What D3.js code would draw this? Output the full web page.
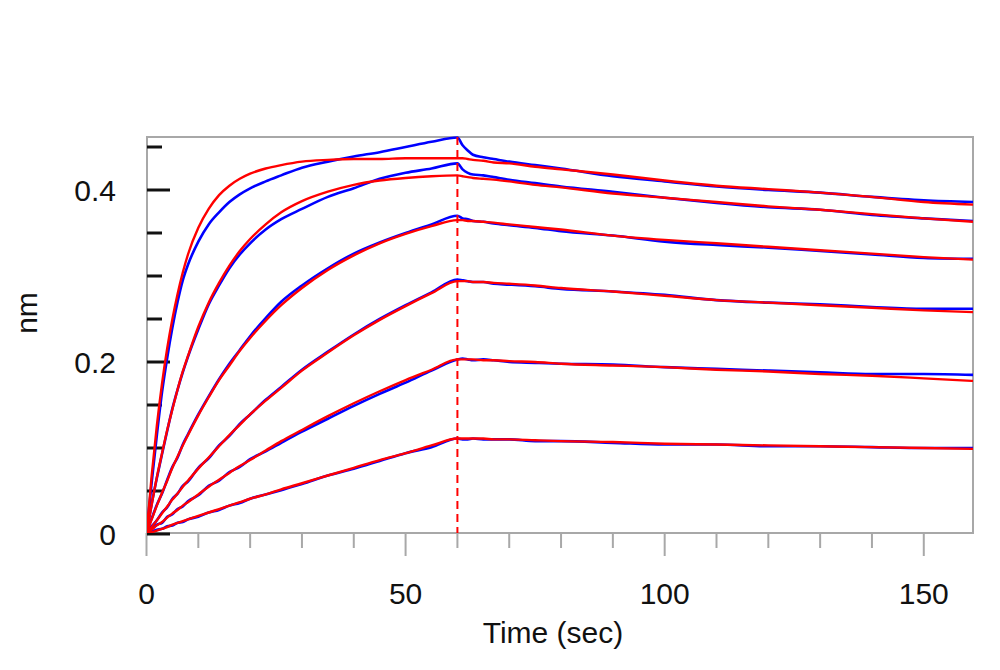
<!DOCTYPE html>
<html>
<head>
<meta charset="utf-8">
<script src="https://cdn.jsdelivr.net/npm/d3@7"></script>
<style>
  html, body { margin: 0; padding: 0; background: #ffffff; }
  svg { display: block; }
  text { font-family: "Liberation Sans", Arial, sans-serif; fill: #111; }
</style>
</head>
<body>
<svg id="chart" width="1000" height="670"></svg>
<script>
// ---------- DATA ----------
const time = [0,1,2,3,4,5,6,7,8,10,12,14,16,18,20,23,26,30,35,40,45,50,55,60,
              61,62,63,65,67,70,75,80,90,100,110,120,130,140,150,159.5];

// Measured (blue) traces, highest concentration first
const blue1 = [0.000,0.060,0.115,0.165,0.205,0.240,0.270,0.295,0.313,0.340,0.360,0.374,0.386,0.395,0.402,0.410,0.417,0.426,0.433,0.439,0.444,0.450,0.456,0.461,
               0.452,0.446,0.441,0.438,0.436,0.433,0.429,0.425,0.416,0.410,0.404,0.400,0.397,0.392,0.388,0.386];
const blue2 = [0.002,0.035,0.065,0.093,0.120,0.146,0.168,0.188,0.206,0.238,0.267,0.289,0.309,0.325,0.338,0.354,0.366,0.378,0.392,0.402,0.413,0.420,0.425,0.431,
               0.424,0.420,0.418,0.417,0.415,0.412,0.408,0.404,0.398,0.391,0.385,0.380,0.377,0.371,0.367,0.364];
const blue3 = [0.003,0.018,0.034,0.047,0.063,0.078,0.089,0.104,0.116,0.139,0.160,0.180,0.198,0.214,0.230,0.251,0.270,0.289,0.309,0.326,0.339,0.350,0.360,0.370,
               0.367,0.366,0.364,0.363,0.361,0.359,0.356,0.352,0.347,0.340,0.336,0.333,0.329,0.325,0.321,0.320];
const blue4 = [0.004,0.009,0.016,0.025,0.031,0.041,0.047,0.056,0.061,0.077,0.088,0.103,0.114,0.128,0.139,0.156,0.171,0.191,0.212,0.232,0.250,0.266,0.281,0.296,
               0.295,0.294,0.293,0.293,0.291,0.290,0.288,0.285,0.282,0.278,0.272,0.269,0.267,0.264,0.262,0.262];
const blue5 = [0.005,0.006,0.011,0.013,0.020,0.023,0.029,0.032,0.038,0.045,0.056,0.062,0.072,0.078,0.087,0.096,0.106,0.119,0.134,0.149,0.163,0.176,0.190,0.203,
               0.204,0.203,0.202,0.203,0.202,0.200,0.199,0.198,0.197,0.194,0.192,0.190,0.188,0.186,0.186,0.185];
const blue6 = [0.004,0.003,0.005,0.006,0.009,0.010,0.013,0.014,0.017,0.020,0.025,0.028,0.033,0.036,0.041,0.046,0.051,0.058,0.068,0.076,0.085,0.094,0.101,0.111,
               0.110,0.110,0.111,0.110,0.110,0.110,0.108,0.108,0.106,0.104,0.104,0.102,0.102,0.101,0.100,0.100];

// Fitted (red) curves
const red1 = [0.000,0.068,0.126,0.175,0.216,0.250,0.279,0.304,0.325,0.356,0.378,0.394,0.405,0.413,0.419,0.425,0.429,0.433,0.435,0.436,0.436,0.437,0.437,0.437,
              0.437,0.436,0.435,0.434,0.432,0.431,0.427,0.424,0.418,0.411,0.405,0.401,0.397,0.392,0.386,0.383];
const red2 = [0.000,0.034,0.066,0.094,0.121,0.145,0.168,0.189,0.207,0.241,0.269,0.292,0.312,0.329,0.343,0.360,0.374,0.387,0.398,0.406,0.411,0.414,0.416,0.417,
              0.416,0.415,0.414,0.413,0.412,0.410,0.406,0.403,0.396,0.391,0.386,0.381,0.377,0.372,0.367,0.363];
const red3 = [0.000,0.017,0.033,0.048,0.062,0.077,0.090,0.103,0.115,0.138,0.159,0.179,0.196,0.213,0.228,0.248,0.266,0.286,0.307,0.324,0.338,0.349,0.358,0.365,
              0.365,0.364,0.364,0.363,0.362,0.360,0.357,0.354,0.347,0.342,0.338,0.334,0.330,0.326,0.322,0.319];
const red4 = [0.000,0.008,0.016,0.024,0.032,0.040,0.047,0.055,0.062,0.076,0.089,0.102,0.115,0.127,0.139,0.155,0.170,0.190,0.211,0.231,0.249,0.265,0.280,0.294,
              0.294,0.294,0.293,0.293,0.292,0.291,0.289,0.286,0.282,0.277,0.272,0.269,0.266,0.263,0.260,0.258];
const red5 = [0.000,0.005,0.010,0.014,0.019,0.024,0.028,0.033,0.037,0.046,0.055,0.063,0.071,0.079,0.086,0.097,0.108,0.121,0.137,0.152,0.166,0.179,0.191,0.203,
              0.203,0.203,0.203,0.202,0.202,0.201,0.200,0.198,0.196,0.194,0.191,0.189,0.186,0.184,0.181,0.178];
const red6 = [0.000,0.002,0.004,0.006,0.008,0.011,0.013,0.015,0.017,0.021,0.025,0.029,0.033,0.037,0.041,0.046,0.052,0.059,0.068,0.077,0.086,0.094,0.103,0.111,
              0.111,0.111,0.111,0.111,0.110,0.110,0.109,0.108,0.107,0.105,0.104,0.103,0.102,0.101,0.100,0.099];

const blueSeries = [blue1, blue2, blue3, blue4, blue5, blue6];
const redSeries = [red1, red2, red3, red4, red5, red6];

const xTickLabels = [0, 50, 100, 150];
const xMinorTicks = d3.range(0, 160, 10);
const yTickLabels = [0, 0.2, 0.4];
const yMinorTicks = [0, 0.05, 0.1, 0.15, 0.2, 0.25, 0.3, 0.35, 0.4, 0.45];
const switchTime = 60;

// ---------- LAYOUT ----------
const box = { left: 147, top: 137, right: 973, bottom: 533 };
const svg = d3.select("#chart");

const x = d3.scaleLinear().domain([0, 159.5]).range([146.5, 973]);
const y = d3.scaleLinear().domain([0, 0.4]).range([534, 190]);

// plot background + frame
svg.append("rect")
  .attr("x", box.left).attr("y", box.top)
  .attr("width", box.right - box.left).attr("height", box.bottom - box.top)
  .attr("fill", "#ffffff")
  .attr("stroke", "#a8a8a8").attr("stroke-width", 2);

// x ticks (outside, gray)
svg.append("g").selectAll("line").data(xMinorTicks).join("line")
  .attr("x1", d => x(d)).attr("x2", d => x(d))
  .attr("y1", box.bottom)
  .attr("y2", d => box.bottom + (d % 50 === 0 ? 23 : 15))
  .attr("stroke", "#a8a8a8").attr("stroke-width", 2);

svg.append("g").selectAll("text").data(xTickLabels).join("text")
  .attr("x", d => x(d)).attr("y", 604)
  .attr("text-anchor", "middle")
  .attr("font-size", 30)
  .text(d => d);

// y ticks (inside, black)
svg.append("g").selectAll("line").data(yMinorTicks).join("line")
  .attr("x1", box.left)
  .attr("x2", d => box.left + (yTickLabels.some(v => Math.abs(v - d) < 1e-9) ? 23 : 15))
  .attr("y1", d => y(d)).attr("y2", d => y(d))
  .attr("stroke", "#111").attr("stroke-width", 3);

svg.append("g").selectAll("text").data(yTickLabels).join("text")
  .attr("x", 116).attr("y", d => y(d))
  .attr("dy", "0.35em")
  .attr("text-anchor", "end")
  .attr("font-size", 30)
  .text(d => d);

// axis titles
svg.append("text")
  .attr("x", 553).attr("y", 643)
  .attr("text-anchor", "middle")
  .attr("font-size", 30)
  .text("Time (sec)");

svg.append("text")
  .attr("transform", "translate(37,313) rotate(-90)")
  .attr("text-anchor", "middle")
  .attr("font-size", 30)
  .text("nm");

// clip for curves
svg.append("clipPath").attr("id", "plotclip")
  .append("rect")
  .attr("x", box.left).attr("y", box.top - 2)
  .attr("width", box.right - box.left).attr("height", box.bottom - box.top + 2);

const plot = svg.append("g").attr("clip-path", "url(#plotclip)");

const line = d3.line()
  .x((d, i) => x(time[i]))
  .y(d => y(d))
  .curve(d3.curveMonotoneX);

plot.selectAll("path.blue").data(blueSeries).join("path")
  .attr("class", "blue")
  .attr("d", line)
  .attr("fill", "none")
  .attr("stroke", "#0000ff")
  .attr("stroke-width", 2.6)
  .attr("stroke-linejoin", "round");

plot.selectAll("path.red").data(redSeries).join("path")
  .attr("class", "red")
  .attr("d", line)
  .attr("fill", "none")
  .attr("stroke", "#ff0000")
  .attr("stroke-width", 2.4)
  .attr("stroke-linejoin", "round");

// association/dissociation switch line
svg.append("line")
  .attr("x1", x(switchTime)).attr("x2", x(switchTime))
  .attr("y1", box.top).attr("y2", box.bottom)
  .attr("stroke", "#ff0000").attr("stroke-width", 2)
  .attr("stroke-dasharray", "8,5");
</script>
</body>
</html>
